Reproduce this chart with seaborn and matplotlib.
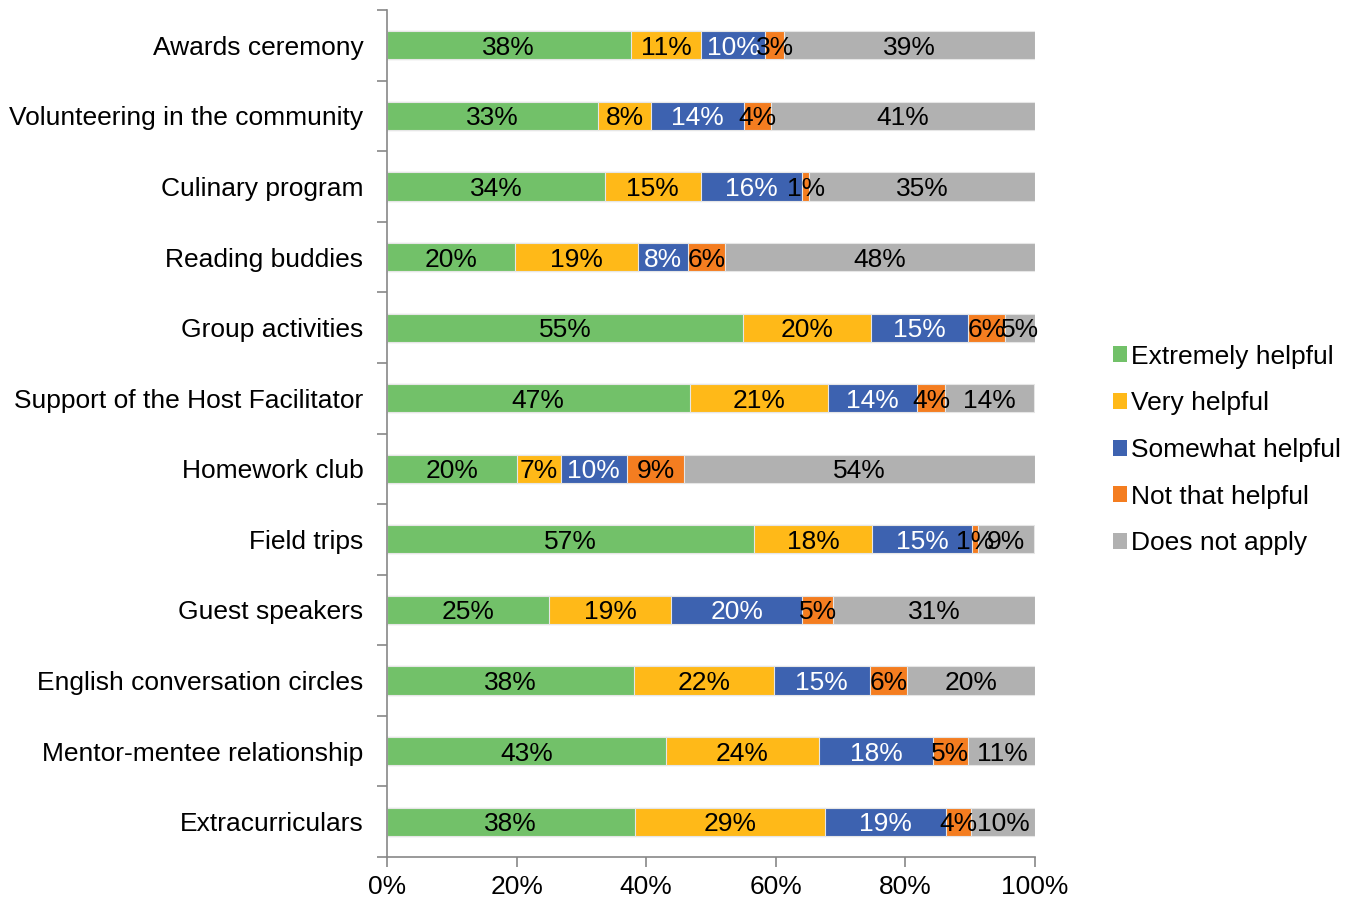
import numpy as np
import pandas as pd
import seaborn as sns
import matplotlib.pyplot as plt
from matplotlib.patches import Patch

sns.set_style('white')
plt.rcParams['font.family'] = ['Liberation Sans', 'DejaVu Sans']
plt.rcParams['text.color'] = 'black'
plt.rcParams['xtick.color'] = 'black'
plt.rcParams['ytick.color'] = 'black'

activities = ['Awards ceremony', 'Volunteering in the community', 'Culinary program',
              'Reading buddies', 'Group activities', 'Support of the Host Facilitator',
              'Homework club', 'Field trips', 'Guest speakers',
              'English conversation circles', 'Mentor-mentee relationship', 'Extracurriculars']
levels = ['Extremely helpful', 'Very helpful', 'Somewhat helpful', 'Not that helpful', 'Does not apply']

# shares in %
extremely = [37.6, 32.6, 33.6, 19.8, 55.0, 46.7, 20.1, 56.6, 25.0, 38.1, 43.0, 38.2]
very      = [10.9,  8.2, 14.8, 19.0, 19.7, 21.4,  6.7, 18.3, 18.9, 21.6, 23.7, 29.4]
somewhat  = [ 9.9, 14.3, 15.7,  7.7, 15.0, 13.7, 10.2, 15.4, 20.1, 14.8, 17.6, 18.7]
not_that  = [ 2.9,  4.1,  1.1,  5.7,  5.6,  4.3,  8.9,  0.9,  4.9,  5.8,  5.3,  3.9]
no_apply  = [38.7, 40.8, 34.8, 47.8,  4.7, 13.8, 54.1,  8.7, 31.1, 19.7, 10.6,  9.8]

colors = ['#72C169', '#FFB918', '#3D62B0', '#F47D20', '#B1B1B1']
text_colors = ['black', 'black', 'white', 'black', 'black']

df = pd.DataFrame({'activity': activities, 'Extremely helpful': extremely,
                   'Very helpful': very, 'Somewhat helpful': somewhat,
                   'Not that helpful': not_that, 'Does not apply': no_apply})
vals = df[levels].values / 100.0
cum = np.cumsum(vals, axis=1)

fs = 19
fig = plt.figure(figsize=(13.58, 9.01), dpi=100)
ax = fig.add_axes([387 / 1358, 1 - 857 / 901, 648 / 1358, 847 / 901])

# draw cumulative totals from the last level back to the first
for i in range(len(levels) - 1, -1, -1):
    sns.barplot(x=cum[:, i], y=df['activity'], orient='h', color=colors[i],
                width=0.4, edgecolor='#E6E6E6', linewidth=0.8, saturation=1, ax=ax)

for r in range(len(activities)):
    for i in range(len(levels)):
        center = cum[r, i] - vals[r, i] / 2
        ax.text(center, r, f'{round(vals[r, i] * 100):.0f}%', ha='center',
                va='center_baseline', fontsize=fs, color=text_colors[i])

ax.set_xlim(0, 1)
ax.set_ylim(len(activities) - 0.5, -0.5)
ax.set_xticks(np.linspace(0, 1, 6))
ax.set_xticklabels([f'{int(t)}%' for t in np.linspace(0, 100, 6)], fontsize=fs)
ax.set_yticks(range(len(activities)))
ax.set_yticklabels(activities, fontsize=fs)
ax.set_yticks(np.arange(-0.5, len(activities), 1), minor=True)
ax.tick_params(axis='y', which='major', length=0, pad=17)
ax.tick_params(axis='y', which='minor', length=7, color='#878787', width=1.2, left=True)
ax.tick_params(axis='x', length=7, color='#878787', width=1.2, bottom=True, pad=6)
ax.set_xlabel('')
ax.set_ylabel('')
for s in ['top', 'right']:
    ax.spines[s].set_visible(False)
for s in ['left', 'bottom']:
    ax.spines[s].set_color('#878787')
    ax.spines[s].set_linewidth(1.2)

handles = [Patch(facecolor=c, edgecolor='none') for c in colors]
fig.legend(handles, levels, loc='center left', bbox_to_anchor=(1089 / 1358, 1 - 450 / 901),
           frameon=False, fontsize=fs, handlelength=0.55, handleheight=0.55,
           handletextpad=0.15, labelspacing=0.86)

fig.savefig('out.png', dpi=100)
